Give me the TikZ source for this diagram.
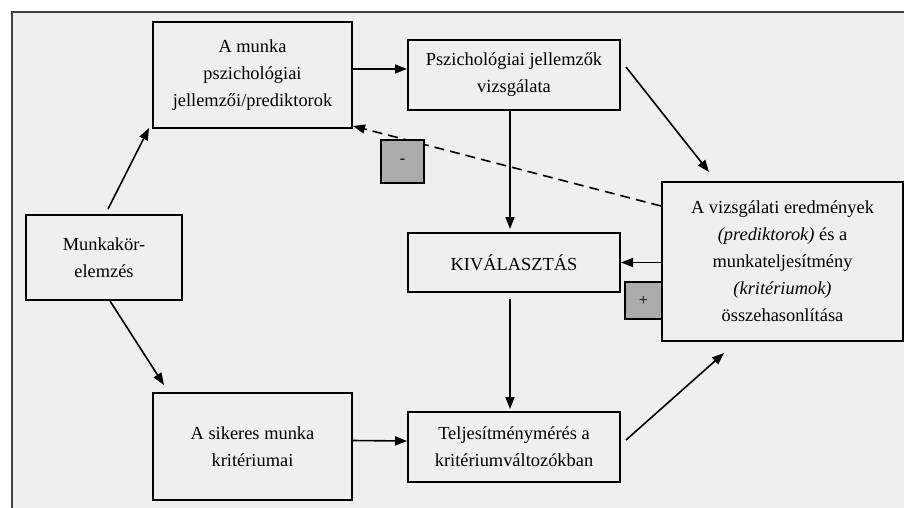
\documentclass[tikz,border=0pt]{standalone}
\usepackage{fontspec}
\setmainfont{Liberation Serif}
\usetikzlibrary{arrows.meta,calc}
\definecolor{hatter}{HTML}{EFEFEF}
\definecolor{jelszin}{HTML}{ABABAB}
\begin{document}
\begin{tikzpicture}[x = 0.5pt, y = -0.5pt,
	doboz/.style = {draw, line width = 1pt, fill = hatter, align = center,
		inner sep = 0pt, font = \fontsize{9.2}{13.5}\selectfont},
	jel/.style = {draw, line width = 1pt, fill = jelszin, inner sep = 0pt,
		font = \fontsize{8}{10}\selectfont},
	nyil/.style = {line width = 0.8pt, -{Triangle[length = 6pt, width = 4.5pt]}}]
\useasboundingbox (0,0) rectangle (904,508);
\fill[white] (0,0) rectangle (904,508);
\fill[hatter] (12,12) rectangle (904,508);
\draw[line width = 0.9pt, black!75] (12,508) -- (12,12) -- (904,12);
% boxes
\node[doboz, minimum width = 99.5pt, minimum height = 53pt] (pred) at (252.5,75)
	{A munka\\ pszichológiai\\ jellemzői/prediktorok};
\node[doboz, minimum width = 106pt, minimum height = 35pt] (vizsg) at (514,75)
	{Pszichológiai jellemzők\\ vizsgálata};
\node[doboz, minimum width = 78pt, minimum height = 42.5pt] (elemz) at (104,257.5)
	{Munkakör-\\ elemzés};
\node[doboz, minimum width = 106pt, minimum height = 29.5pt] (kival) at (514,262.5)
	{KIVÁLASZTÁS};
\node[jel, minimum width = 18.5pt, minimum height = 18.5pt] (plusz) at (643.5,300.5) {+};
\node[doboz, minimum width = 120.5pt, minimum height = 79.5pt] (osszeh) at (782.5,261.5)
	{A vizsgálati eredmények\\ \textit{(prediktorok)} és a\\ munkateljesítmény\\
	\textit{(kritériumok)}\\ összehasonlítása};
\node[doboz, minimum width = 99.5pt, minimum height = 53.5pt] (krit) at (252.5,446.5)
	{A sikeres munka\\ kritériumai};
\node[doboz, minimum width = 106pt, minimum height = 35pt] (telj) at (514,447)
	{Teljesítménymérés a\\ kritériumváltozókban};
% arrows
\draw[nyil] ($(elemz.north)+(4,-5)$) -- ($(pred.south west)+(-3,-1)$);
\draw[nyil] ($(elemz.south)+(6,0)$) -- ($(krit.north west)+(12,-7)$);
\draw[nyil] ([yshift = 3pt]pred.east) -- ([yshift = 3pt]vizsg.west);
\draw[nyil] ($(vizsg.east)+(5,-8)$) -- ($(osszeh.north west)+(48,-9)$);
\draw[nyil] ($(vizsg.south)+(-4,0)$) -- ($(kival.north)+(-4,-3)$);
\draw[nyil, dash pattern = on 5pt off 3pt] ($(osszeh.north west)+(0,25)$) -- ($(pred.south east)+(0,-3)$);
\draw[nyil] (kival.east -| osszeh.west) -- (kival.east);
\draw[nyil] ($(kival.south)+(-4,6)$) -- ($(telj.north)+(-4,-2)$);
\draw[nyil] ([yshift = 3pt]krit.east) -- ([yshift = 3pt]telj.west);
\draw[nyil] ($(telj.east)+(5,-7)$) -- ($(osszeh.south west)+(63,11)$);
\node[jel, minimum width = 21.5pt, minimum height = 21.5pt] (minusz) at (402.5,161.5) {-};
\end{tikzpicture}
\end{document}
